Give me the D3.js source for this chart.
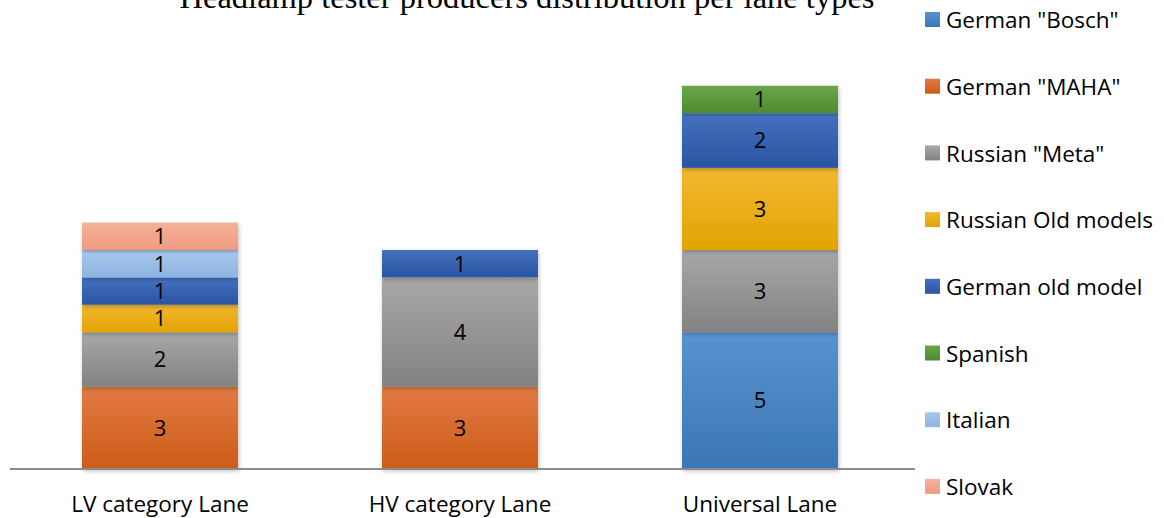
<!DOCTYPE html>
<html>
<head>
<meta charset="utf-8">
<script src="https://cdn.jsdelivr.net/npm/d3@7"></script>
<style>
  body { margin: 0; background: #fff; }
  #chart { width: 1164px; height: 518px; }
</style>
</head>
<body>
<div id="chart"></div>
<script>
const categories = ['LV category Lane', 'HV category Lane', 'Universal Lane'];
const seriesNames = ['German "Bosch"', 'German "MAHA"', 'Russian "Meta"', 'Russian Old models', 'German old model', 'Spanish', 'Italian', 'Slovak'];
const bosch      = [0, 0, 5];
const maha       = [3, 3, 0];
const meta       = [2, 4, 3];
const russianOld = [1, 0, 3];
const germanOld  = [1, 1, 2];
const spanish    = [0, 0, 1];
const italian    = [1, 0, 0];
const slovak     = [1, 0, 0];
const title = 'Headlamp tester producers distribution per lane types';

const width = 1164, height = 518;
const margin = {left: 10, right: 254, bottom: 49, top: 31};
const fontSans = 'Open Sans, sans-serif';
// top / bottom gradient colours per series
const colors = [
  ['#5a93cf', '#3b76b4'],
  ['#e27a44', '#cc5c17'],
  ['#a8a8a8', '#828282'],
  ['#f2b830', '#e2a400'],
  ['#4470bf', '#2a55a3'],
  ['#6aa64a', '#4e8a2f'],
  ['#a8c8ec', '#8db3e0'],
  ['#f6b29a', '#ee9a7e']
];

const rows = categories.map((c, i) => {
  const r = {cat: c};
  [bosch, maha, meta, russianOld, germanOld, spanish, italian, slovak]
    .forEach((arr, k) => r[seriesNames[k]] = arr[i]);
  return r;
});
const stacked = d3.stack().keys(seriesNames)(rows);

const svg = d3.select('#chart').append('svg')
  .attr('width', width).attr('height', height);

const defs = svg.append('defs');
colors.forEach((c, i) => {
  const g = defs.append('linearGradient').attr('id', 'grad' + i)
    .attr('x1', 0).attr('y1', 0).attr('x2', 0).attr('y2', 1);
  g.append('stop').attr('offset', '0%').attr('stop-color', c[0]);
  g.append('stop').attr('offset', '100%').attr('stop-color', c[1]);
});
defs.append('filter').attr('id', 'shadow')
  .attr('x', '-10%').attr('y', '-10%').attr('width', '120%').attr('height', '120%')
  .append('feDropShadow').attr('dx', 1).attr('dy', 2).attr('stdDeviation', 2)
  .attr('flood-color', '#000').attr('flood-opacity', 0.25);

const x = d3.scaleBand().domain(categories)
  .range([margin.left, 910]).paddingInner(0.48).paddingOuter(0.24);
const y = d3.scaleLinear().domain([0, 16])
  .range([height - margin.bottom, margin.top]);

// bars
const gBars = svg.append('g');
stacked.forEach((s, i) => {
  gBars.append('g').attr('filter', 'url(#shadow)')
    .selectAll('rect').data(s.filter(d => d[1] > d[0])).enter()
    .append('rect')
    .attr('x', d => x(d.data.cat))
    .attr('width', x.bandwidth())
    .attr('y', d => y(d[1]))
    .attr('height', d => y(d[0]) - y(d[1]))
    .attr('fill', `url(#grad${i})`);
});

// value labels
stacked.forEach(s => {
  svg.append('g').selectAll('text')
    .data(s.filter(d => d[1] > d[0])).enter()
    .append('text')
    .attr('x', d => x(d.data.cat) + x.bandwidth() / 2)
    .attr('y', d => (y(d[0]) + y(d[1])) / 2)
    .attr('dy', '0.36em')
    .attr('text-anchor', 'middle')
    .attr('font-family', fontSans)
    .attr('font-size', 22)
    .attr('fill', '#000')
    .text(d => d[1] - d[0]);
});

// x axis
const xAxis = svg.append('g')
  .attr('transform', `translate(0, ${y(0)})`)
  .call(d3.axisBottom(x).tickSize(0).tickPadding(27));
xAxis.select('.domain')
  .attr('d', `M${margin.left},0H915`)
  .attr('stroke', '#8c8c8c').attr('stroke-width', 2);
xAxis.selectAll('.tick text')
  .attr('font-family', fontSans)
  .attr('font-size', 22.5)
  .attr('fill', '#000');

// title (cut off at the top in the original)
svg.append('text')
  .attr('x', 527).attr('y', 8)
  .attr('text-anchor', 'middle')
  .attr('font-family', 'Liberation Serif, serif')
  .attr('font-size', 32.5)
  .attr('fill', '#000')
  .text(title);

// legend
const legend = svg.append('g').attr('transform', 'translate(925, 0)');
const items = legend.selectAll('g').data(seriesNames).enter().append('g')
  .attr('transform', (d, i) => `translate(0, ${20 + i * 66.7})`);
items.append('rect')
  .attr('x', 0).attr('y', -8).attr('width', 15).attr('height', 15)
  .attr('fill', (d, i) => `url(#grad${i})`);
items.append('text')
  .attr('x', 21).attr('dy', '0.36em')
  .attr('font-family', fontSans)
  .attr('font-size', 22.5)
  .attr('fill', '#000')
  .text(d => d);
</script>
</body>
</html>
